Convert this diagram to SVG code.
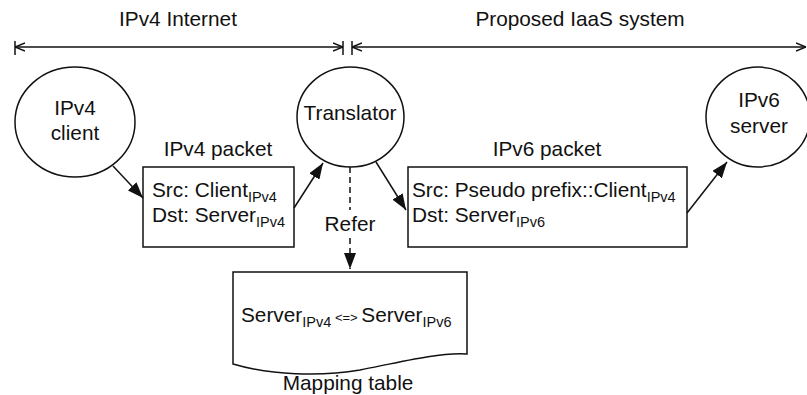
<svg xmlns="http://www.w3.org/2000/svg" width="807" height="395" viewBox="0 0 807 395">
<defs>
<style>
text{font-family:"Liberation Sans",Arial,sans-serif;font-size:20.8px;fill:#111}
.sub{font-size:14.5px}
.shape{fill:#fff;stroke:#111;stroke-width:1.5}
.ln{stroke:#111;stroke-width:1.5;fill:none}
</style>
<marker id="ah" viewBox="0 0 16 12" refX="16" refY="6" markerWidth="16" markerHeight="12" markerUnits="userSpaceOnUse" orient="auto">
<path d="M0,0 L16,6 L0,12 Z" fill="#111"/>
</marker>
<marker id="chev" viewBox="0 0 10 10" refX="10" refY="5" markerWidth="10" markerHeight="10" markerUnits="userSpaceOnUse" orient="auto-start-reverse">
<path d="M0,1 L10,5 L0,9" fill="none" stroke="#111" stroke-width="1.5"/>
</marker>
</defs>
<rect width="807" height="395" fill="#fff"/>

<g id="labels">
<text x="178" y="26" text-anchor="middle" font-size="21">IPv4 Internet</text>
<text x="580" y="26" text-anchor="middle" font-size="21">Proposed IaaS system</text>
</g>

<g id="dimensions">
<line class="ln" x1="15" y1="41" x2="15" y2="55"/>
<line class="ln" x1="343" y1="41" x2="343" y2="55"/>
<line class="ln" x1="352" y1="41" x2="352" y2="55"/>
<line class="ln" x1="15" y1="47" x2="343" y2="47" marker-start="url(#chev)" marker-end="url(#chev)"/>
<line class="ln" x1="352" y1="47" x2="806" y2="47" marker-start="url(#chev)" marker-end="url(#chev)"/>
</g>

<g id="client">
<ellipse class="shape" cx="75" cy="122" rx="60" ry="55"/>
<text x="75" y="115" text-anchor="middle">IPv4</text>
<text x="75" y="140" text-anchor="middle">client</text>
</g>

<g id="translator">
<ellipse class="shape" cx="350.5" cy="117" rx="53.5" ry="50"/>
<text x="350" y="120" text-anchor="middle">Translator</text>
</g>

<g id="server">
<ellipse class="shape" cx="758" cy="117" rx="52" ry="50"/>
<text x="759" y="107" text-anchor="middle">IPv6</text>
<text x="759" y="133" text-anchor="middle">server</text>
</g>

<g id="ipv4packet">
<text x="218" y="156" text-anchor="middle">IPv4 packet</text>
<rect class="shape" x="143" y="167" width="151" height="80"/>
<text x="152" y="197">Src: Client<tspan class="sub" dy="5">IPv4</tspan></text>
<text x="152" y="222">Dst: Server<tspan class="sub" dy="5">IPv4</tspan></text>
</g>

<g id="ipv6packet">
<text x="547" y="156" text-anchor="middle">IPv6 packet</text>
<rect class="shape" x="408" y="167" width="279" height="80"/>
<text x="412" y="197">Src: Pseudo prefix::Client<tspan class="sub" dy="5">IPv4</tspan></text>
<text x="412" y="222">Dst: Server<tspan class="sub" dy="5">IPv6</tspan></text>
</g>

<g id="mappingtable">
<path class="shape" d="M233,272 H467 V354 C440,352 400,362 360,370 C320,377 270,375 233,364 Z"/>
<text x="241" y="322">Server<tspan class="sub" dy="5">IPv4</tspan><tspan font-size="13" dy="-5"> &lt;=&gt; </tspan>Server<tspan class="sub" dy="5">IPv6</tspan></text>
<text x="348" y="390" text-anchor="middle">Mapping table</text>
</g>

<g id="connectors">
<line class="ln" x1="113" y1="166" x2="143" y2="198" marker-end="url(#ah)"/>
<line class="ln" x1="294" y1="208" x2="323" y2="163" marker-end="url(#ah)"/>
<line class="ln" x1="376" y1="162" x2="406" y2="210" marker-end="url(#ah)"/>
<line class="ln" x1="687" y1="213" x2="727" y2="162" marker-end="url(#ah)"/>
<line class="ln" x1="350" y1="167" x2="350" y2="210" stroke-dasharray="6,4"/>
<line class="ln" x1="350" y1="238" x2="350" y2="269" stroke-dasharray="6,4" marker-end="url(#ah)"/>
<text x="350" y="231" text-anchor="middle">Refer</text>
</g>
</svg>
